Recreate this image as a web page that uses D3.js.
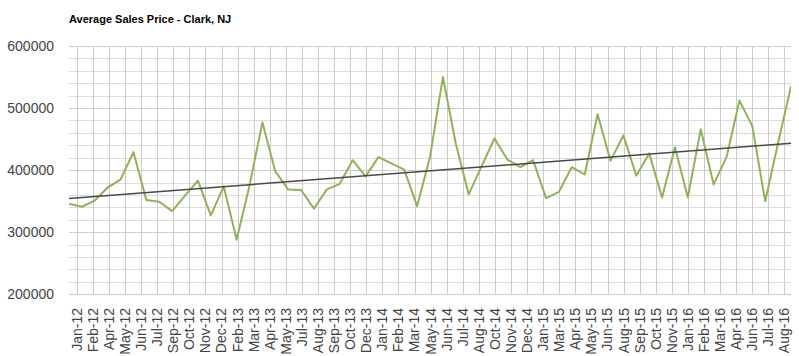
<!DOCTYPE html>
<html>
<head>
<meta charset="utf-8">
<script src="https://cdn.jsdelivr.net/npm/d3@7"></script>
<style>
  html, body { margin: 0; padding: 0; background: #fff; }
  svg { display: block; font-family: Arial, "Liberation Sans", sans-serif; }
</style>
</head>
<body>
<svg id="chart" width="799" height="356"></svg>
<script>
// ---- data ----
const title = "Average Sales Price - Clark, NJ";
// monthly points, Jan-12 .. Sep-16 (index = months since Jan-12)
const months = d3.range(57);
const prices = [
  346000, 341000, 351000, 372000, 385000, 429000, 352000, 349000, 334000, 359000, 383000, 327000,
  374000, 288000, 375000, 477000, 398000, 369000, 368000, 338000, 369000, 378000, 416000, 390000,
  421000, 411000, 401000, 342000, 421000, 550000, 443000, 361000, 406000, 451000, 417000, 405000,
  416000, 355000, 365000, 405000, 393000, 490000, 415000, 456000, 391000, 427000, 356000, 437000,
  356000, 466000, 377000, 421000, 512000, 471000, 350000, 444000, 535000
];
const yTicks = [200000, 300000, 400000, 500000, 600000];
const yMinorStep = 20000;
const xTickLabels = [
  "Jan-12","Feb-12","Apr-12","May-12","Jun-12","Jul-12","Sep-12","Oct-12","Nov-12","Dec-12",
  "Feb-13","Mar-13","Apr-13","May-13","Jul-13","Aug-13","Sep-13","Oct-13","Dec-13",
  "Jan-14","Feb-14","Mar-14","May-14","Jun-14","Jul-14","Aug-14","Oct-14","Nov-14","Dec-14",
  "Jan-15","Mar-15","Apr-15","May-15","Jun-15","Aug-15","Sep-15","Oct-15","Nov-15",
  "Jan-16","Feb-16","Mar-16","Apr-16","Jun-16","Jul-16","Aug-16"
];
// tick positions in month units (evenly spaced date gridlines)
const xTickStart = 0.605, xTickStep = 1.2475;

// ---- layout ----
const svg = d3.select("#chart");
const pLeft = 69, pRight = 791, pTop = 46, pBottom = 294.3;

const x = d3.scaleLinear().domain([0, 56]).range([pLeft, pRight]);
const y = d3.scaleLinear().domain([200000, 600000]).range([pBottom, pTop]);

// title
svg.append("text")
  .attr("x", 69).attr("y", 23)
  .attr("font-size", 11).attr("font-weight", "bold").attr("fill", "#000")
  .text(title);

// minor horizontal gridlines
const minor = d3.range(200000, 600001, yMinorStep).filter(v => !yTicks.includes(v));
svg.append("g").selectAll("line").data(minor).join("line")
  .attr("x1", pLeft).attr("x2", pRight)
  .attr("y1", d => Math.round(y(d)) + 0.5).attr("y2", d => Math.round(y(d)) + 0.5)
  .attr("stroke", "#dcdcdc").attr("stroke-width", 1);

// vertical gridlines
const xTickPos = xTickLabels.map((l, i) => xTickStart + i * xTickStep);
svg.append("g").selectAll("line").data(xTickPos).join("line")
  .attr("x1", d => Math.round(x(d)) + 0.5).attr("x2", d => Math.round(x(d)) + 0.5)
  .attr("y1", pTop).attr("y2", pBottom)
  .attr("stroke", "#cccccc").attr("stroke-width", 1);

// major horizontal gridlines
svg.append("g").selectAll("line").data(yTicks).join("line")
  .attr("x1", pLeft).attr("x2", pRight)
  .attr("y1", d => Math.round(y(d)) + 0.5).attr("y2", d => Math.round(y(d)) + 0.5)
  .attr("stroke", "#cccccc").attr("stroke-width", 1);

// y labels
svg.append("g").selectAll("text").data(yTicks).join("text")
  .attr("x", 54).attr("y", d => y(d))
  .attr("dy", "0.35em")
  .attr("text-anchor", "end")
  .attr("font-size", 14).attr("fill", "#444")
  .text(d => d);

// x labels
svg.append("g").selectAll("text").data(xTickLabels).join("text")
  .attr("transform", (d, i) => `translate(${x(xTickPos[i])},308) rotate(-90)`)
  .attr("dy", "0.35em")
  .attr("text-anchor", "end")
  .attr("font-size", 14).attr("fill", "#444")
  .text(d => d);

// clip
svg.append("clipPath").attr("id", "clip")
  .append("rect").attr("x", pLeft).attr("y", pTop - 5).attr("width", pRight - pLeft).attr("height", pBottom - pTop + 10);

// data line
const line = d3.line().x(d => x(d[0])).y(d => y(d[1]));
const pts = months.map((m, i) => [m, prices[i]]);
svg.append("path")
  .attr("clip-path", "url(#clip)")
  .attr("d", line(pts))
  .attr("fill", "none")
  .attr("stroke", "#92b25a")
  .attr("stroke-width", 2)
  .attr("stroke-linejoin", "round");

// linear trendline (least squares)
const mx = d3.mean(months), my = d3.mean(prices);
const slope = d3.sum(months, (m, i) => (m - mx) * (prices[i] - my)) / d3.sum(months, m => (m - mx) ** 2);
const icpt = my - slope * mx;
svg.append("path")
  .attr("d", line([[0, icpt], [56, icpt + slope * 56]]))
  .attr("fill", "none")
  .attr("stroke", "#4a4a4a")
  .attr("stroke-width", 1.5);
</script>
</body>
</html>
